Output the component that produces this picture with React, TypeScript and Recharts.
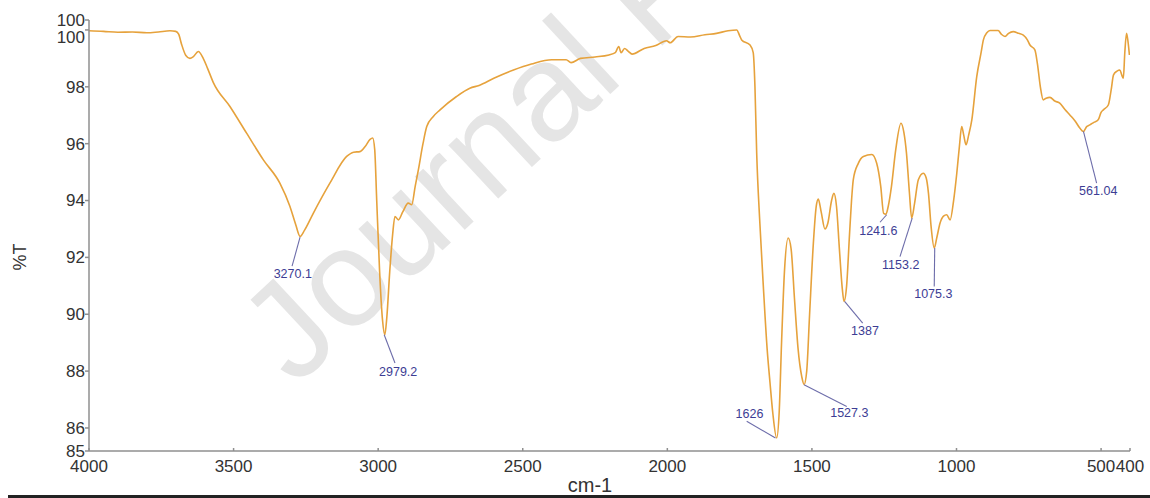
import React from 'react';
import { LineChart, Line, XAxis, YAxis, ReferenceDot } from 'recharts';

// ---------- DATA ----------
const wavenumbers = [
  4000, 3950, 3900, 3850, 3800, 3760, 3720, 3700, 3690, 3680, 3665, 3651, 3640, 3622, 3605,
  3590, 3570, 3512, 3455, 3397, 3340, 3305, 3285, 3270, 3255, 3224, 3167, 3109, 3085, 3063, 3045,
  3028, 3019, 3012, 3005, 2995, 2985, 2977, 2970, 2960, 2950, 2942, 2930, 2915, 2896, 2884,
  2872, 2861, 2845, 2832, 2810, 2786, 2729, 2683, 2651, 2600, 2532, 2470, 2400, 2350, 2333,
  2300, 2250, 2202, 2180, 2168, 2160, 2148, 2135, 2122, 2080, 2040, 2003, 1990, 1963, 1920,
  1870, 1830, 1790, 1760, 1750, 1743, 1714, 1703, 1697, 1691, 1680, 1668, 1655, 1645, 1635,
  1622, 1613, 1605, 1595, 1582, 1572, 1560, 1548, 1535, 1527, 1518, 1508, 1495, 1485, 1478,
  1468, 1455, 1445, 1432, 1424, 1415, 1405, 1395, 1389, 1380, 1370, 1363, 1357, 1340, 1322,
  1293, 1276, 1262, 1252, 1244, 1236, 1225, 1210, 1192, 1182, 1173, 1163, 1155, 1145, 1132,
  1115, 1105, 1097, 1088, 1077, 1068, 1057, 1045, 1034, 1022, 1010, 999, 990, 982, 975,
  967, 958, 947, 930, 915, 907, 895, 884, 870, 856, 845, 832, 820, 804, 785,
  769, 755, 746, 729, 720, 710, 700, 690, 677, 660, 642, 625, 608, 590, 573,
  561, 550, 539, 525, 510, 500, 492, 475, 465, 457, 445, 435, 428, 423, 418,
  412, 407, 402,
];

const transmittance = [
  99.97, 99.95, 99.92, 99.93, 99.9, 99.93, 99.97, 99.95, 99.85, 99.5, 99.1, 99.0, 99.05, 99.24, 99.0,
  98.65, 98.15, 97.3, 96.37, 95.43, 94.61, 93.79, 93.15, 92.74, 92.95, 93.56, 94.61, 95.55, 95.7, 95.72, 95.9,
  96.15, 96.2, 95.8, 94.0, 91.5, 89.8, 89.28, 89.9, 91.5, 92.8, 93.44, 93.32, 93.6, 93.91, 93.85,
  94.5, 95.08, 96.0, 96.6, 96.95, 97.19, 97.66, 97.95, 98.05, 98.3, 98.59, 98.8, 98.95, 98.95, 98.85,
  99.0, 99.05, 99.12, 99.2, 99.42, 99.2, 99.35, 99.25, 99.15, 99.35, 99.45, 99.62, 99.55, 99.77, 99.75,
  99.83, 99.88, 99.97, 100.0, 99.8, 99.65, 99.47, 99.2, 98.0, 95.67, 93.2, 90.98, 88.8, 87.6, 86.5,
  85.65, 86.6, 89.0, 91.5, 92.68, 92.3, 90.5, 88.8, 87.8, 87.53, 88.0, 90.0, 92.5, 93.8, 94.05,
  93.6, 93.0, 93.2, 94.0, 94.25, 93.8, 92.3, 90.9, 90.45, 91.0, 92.8, 94.0, 94.73, 95.3, 95.55,
  95.62, 95.31, 94.5, 93.55, 93.52, 93.8, 94.49, 95.8, 96.72, 96.4, 95.67, 94.3, 93.38, 93.9, 94.73,
  94.96, 94.8, 94.26, 93.1, 92.33, 92.7, 93.2, 93.45, 93.5, 93.32, 94.0, 94.96, 95.9, 96.6, 96.3,
  95.96, 96.3, 96.84, 98.36, 99.2, 99.65, 99.9, 99.98, 99.98, 99.98, 99.85, 99.77, 99.88, 99.94, 99.88,
  99.82, 99.65, 99.47, 99.3, 98.8, 98.0, 97.54, 97.6, 97.63, 97.5, 97.42, 97.2, 97.01, 96.8, 96.54,
  96.43, 96.6, 96.66, 96.75, 96.84, 97.1, 97.19, 97.36, 97.9, 98.42, 98.55, 98.59, 98.4, 98.3, 99.2,
  99.88, 99.6, 99.12,
];

const xTicks = [4000, 3500, 3000, 2500, 2000, 1500, 1000, 500, 400];
const yTicks = [85.19, 86, 88, 90, 92, 94, 96, 98, 100, 100.35];

const peakLabels = ['3270.1', '2979.2', '1626', '1527.3', '1387', '1241.6', '1153.2', '1075.3', '561.04'];
const peakWn = [3270.1, 2979.2, 1626, 1527.3, 1387, 1241.6, 1153.2, 1075.3, 561.04];
const peakT = [92.71, 89.28, 85.65, 87.52, 90.45, 93.5, 93.38, 92.33, 96.43];

// leader end offset (dx, dy) and label centre offset (dx, dy), in pixels from the peak point
const leaderEnd = [[-8, 29], [10.8, 28.3], [-28.8, -16.6], [42.7, 21.7], [18.1, 21.6], [-6.6, 7.5], [-12.2, 38.4], [-0.5, 38.4], [13.2, 51.6]];
const labelPos = [[-7.3, 36], [14, 37], [-26, -24.3], [45.3, 28.3], [20.4, 29], [-8.3, 15.7], [-11.5, 46.7], [-1.4, 45.7], [14.8, 59]];

const data = wavenumbers.map((wn, i) => ({ wn, t: transmittance[i] }));

const FONT = '"Liberation Sans", Arial, Helvetica, sans-serif';
const AXIS = '#8f8f8f';
const TXT = '#333333';

const XTick = (props: any) => {
  const { x, y, payload } = props;
  return (
    <g>
      <line x1={x} y1={y} x2={x} y2={y - 3} stroke={AXIS} strokeWidth={1.5} />
      <text x={x} y={y + 21} textAnchor="middle" fill={TXT} fontSize={17} fontFamily={FONT}>
        {payload.value}
      </text>
    </g>
  );
};

const YTick = (props: any) => {
  const { x, y, payload } = props;
  const v = payload.value;
  const shift = v === 100 ? 7 : 0;
  return (
    <text x={x} y={y + shift} dy="0.35em" textAnchor="end" fill={TXT} fontSize={17} fontFamily={FONT}>
      {Math.round(v)}
    </text>
  );
};

const makeShape = (i: number) => (p: any) => {
  const { cx, cy } = p;
  if (cx == null || cy == null) return <g />;
  return (
    <g>
      <line x1={cx} y1={cy} x2={cx + leaderEnd[i][0]} y2={cy + leaderEnd[i][1]} stroke="#6d6daa" strokeWidth={1.1} />
      <text
        x={cx + labelPos[i][0]}
        y={cy + labelPos[i][1]}
        dy="0.35em"
        textAnchor="middle"
        fill="#3d3d94"
        fontSize={12.5}
        fontFamily={FONT}
      >
        {peakLabels[i]}
      </text>
    </g>
  );
};

export default function App() {
  return (
    <div style={{ position: 'absolute', left: 0, top: 0, width: 1150, height: 498, background: '#fff', overflow: 'hidden' }}>
      <svg width={1150} height={498} style={{ position: 'absolute', left: 0, top: 0 }}>
        <text
          x={295}
          y={388}
          transform="rotate(-43 295 388)"
          fontSize={138}
          fontFamily={FONT}
          fill="#e5e5e5"
        >
          Journal Pre-proof
        </text>
        <text
          x={20}
          y={257}
          transform="rotate(-90 20 257)"
          textAnchor="middle"
          dy="0.35em"
          fontSize={18}
          fontFamily={FONT}
          fill={TXT}
        >
          %T
        </text>
        <text x={590} y={492} textAnchor="middle" fontSize={20} fontFamily={FONT} fill={TXT}>
          cm-1
        </text>
      </svg>
      <div style={{ position: 'absolute', left: 0, top: 0 }}>
        <LineChart width={1150} height={498} data={data} margin={{ top: 20, right: 20, bottom: 0, left: 0 }}>
          <XAxis
            dataKey="wn"
            type="number"
            domain={[400, 4000]}
            reversed
            ticks={xTicks}
            interval={0}
            allowDataOverflow
            height={47}
            stroke={AXIS}
            strokeWidth={1.5}
            tickLine={false}
            tickSize={0}
            tickMargin={0}
            tick={<XTick />}
          />
          <YAxis
            type="number"
            domain={[85.19, 100.35]}
            ticks={yTicks}
            interval={0}
            allowDataOverflow
            width={89}
            stroke={AXIS}
            strokeWidth={1.5}
            tickSize={4}
            tickMargin={0}
            tick={<YTick />}
          />
          <Line
            dataKey="t"
            type="monotone"
            stroke="#e6a23c"
            strokeWidth={1.6}
            dot={false}
            activeDot={false}
            isAnimationActive={false}
          />
          {peakWn.map((w, i) => (
            <ReferenceDot key={peakLabels[i]} x={w} y={peakT[i]} r={0} ifOverflow="visible" shape={makeShape(i)} />
          ))}
        </LineChart>
      </div>
      <div style={{ position: 'absolute', left: 8, top: 495, width: 1142, height: 3, background: '#222' }} />
    </div>
  );
}
